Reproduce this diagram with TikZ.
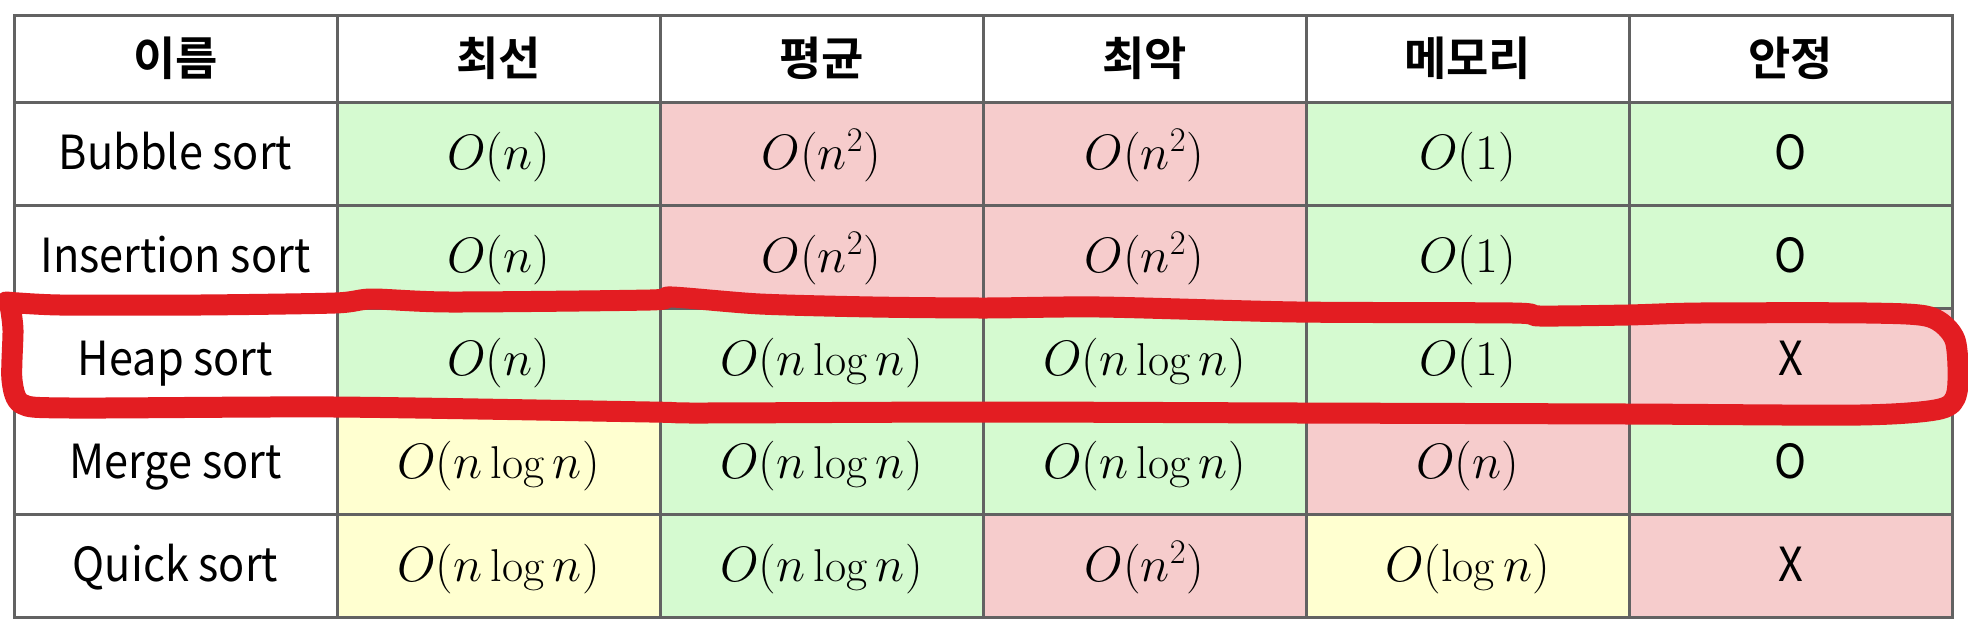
\documentclass[tikz,border=0pt]{standalone}
\usepackage{fontspec}
\newfontfamily\kr{Noto Sans CJK KR}[BoldFont={Noto Sans CJK KR Bold}]
\newfontfamily\krn{Noto Sans CJK KR}[FakeStretch=0.92]
\definecolor{cG}{HTML}{D5FAD0}
\definecolor{cP}{HTML}{F6CCCC}
\definecolor{cY}{HTML}{FFFFD0}
\definecolor{gridc}{HTML}{626262}
\definecolor{penred}{HTML}{E31D22}
\begin{document}
\begin{tikzpicture}[x=0.5pt,y=-0.5pt,
  grid/.style={draw=gridc,line width=1.5pt},
  hdr/.style={inner sep=0pt,anchor=center,font=\kr\bfseries\fontsize{23}{26}\selectfont},
  txt/.style={inner sep=0pt,anchor=base,font=\krn\fontsize{23.5}{28}\selectfont},
  mth/.style={inner sep=0pt,anchor=base,font=\fontsize{23}{27}\selectfont},
  pen/.style={draw=penred,line width=10.5pt,line cap=round,line join=round}]
\useasboundingbox (0,0) rectangle (1968,632);
\fill[white] (0,0) rectangle (1968,632);
% cell fills
\foreach \c/\r/\col in {1/1/cG,2/1/cP,3/1/cP,4/1/cG,5/1/cG,
                        1/2/cG,2/2/cP,3/2/cP,4/2/cG,5/2/cG,
                        1/3/cG,2/3/cG,3/3/cG,4/3/cG,5/3/cP,
                        1/4/cY,2/4/cG,3/4/cG,4/4/cP,5/4/cG,
                        1/5/cY,2/5/cG,3/5/cP,4/5/cY,5/5/cP}
  \fill[\col] ({14+323*\c},{102+103*(\r-1)}) rectangle ++(323,103);
% grid
\foreach \xx in {337,660,983,1306,1629} \draw[grid] (\xx,15) -- (\xx,617);
\foreach \yy in {102,205,308,411,514} \draw[grid] (14,\yy) -- (1952,\yy);
\draw[grid] (14,15) rectangle (1952,617);
% header
\node[hdr] (h0) at (175.5,58.5) {이름};
\node[hdr] (h1) at (498.5,58.5) {최선};
\node[hdr] (h2) at (821.5,58.5) {평균};
\node[hdr] (h3) at (1144.5,58.5) {최악};
\node[hdr] (h4) at (1467.5,58.5) {메모리};
\node[hdr] (h5) at (1790.5,58.5) {안정};
% row 1
\node[txt] (a0) at (175.5,169.5) {Bubble sort};
\node[mth] (a1) at (498.5,169.5) {$O(n)$};
\node[mth] (a2) at (821.5,169.5) {$O(n^2)$};
\node[mth] (a3) at (1144.5,169.5) {$O(n^2)$};
\node[mth] (a4) at (1467.5,169.5) {$O(1)$};
\node[txt] (a5) at (1790.5,169.5) {O};
% row 2
\node[txt] (b0) at (175.5,272.5) {Insertion sort};
\node[mth] (b1) at (498.5,272.5) {$O(n)$};
\node[mth] (b2) at (821.5,272.5) {$O(n^2)$};
\node[mth] (b3) at (1144.5,272.5) {$O(n^2)$};
\node[mth] (b4) at (1467.5,272.5) {$O(1)$};
\node[txt] (b5) at (1790.5,272.5) {O};
% row 3
\node[txt] (c0) at (175.5,375.5) {Heap sort};
\node[mth] (c1) at (498.5,375.5) {$O(n)$};
\node[mth] (c2) at (821.5,375.5) {$O(n\log n)$};
\node[mth] (c3) at (1144.5,375.5) {$O(n\log n)$};
\node[mth] (c4) at (1467.5,375.5) {$O(1)$};
\node[txt] (c5) at (1790.5,375.5) {X};
% row 4
\node[txt] (d0) at (175.5,478.5) {Merge sort};
\node[mth] (d1) at (498.5,478.5) {$O(n\log n)$};
\node[mth] (d2) at (821.5,478.5) {$O(n\log n)$};
\node[mth] (d3) at (1144.5,478.5) {$O(n\log n)$};
\node[mth] (d4) at (1467.5,478.5) {$O(n)$};
\node[txt] (d5) at (1790.5,478.5) {O};
% row 5
\node[txt] (e0) at (175.5,581.5) {Quick sort};
\node[mth] (e1) at (498.5,581.5) {$O(n\log n)$};
\node[mth] (e2) at (821.5,581.5) {$O(n\log n)$};
\node[mth] (e3) at (1144.5,581.5) {$O(n^2)$};
\node[mth] (e4) at (1467.5,581.5) {$O(\log n)$};
\node[txt] (e5) at (1790.5,581.5) {X};
% red hand-drawn loop
\draw[pen] plot[smooth,tension=0.45] coordinates {
  (6,302) (60,305) (200,305) (335,303) (372,299) (450,302) (650,300)
  (672,297) (760,304) (873,307) (985,308) (1100,307) (1297,312)
  (1513,313) (1540,316) (1628,315) (1700,313) (1867,313) (1930,317)
  (1955,340) (1957,392) (1940,409) (1860,415) (1628,414) (1300,413)
  (985,412) (700,413) (650,412) (335,407) (70,408) (22,404) (12,380)
  (13,330) (10,305)};
\end{tikzpicture}
\end{document}
